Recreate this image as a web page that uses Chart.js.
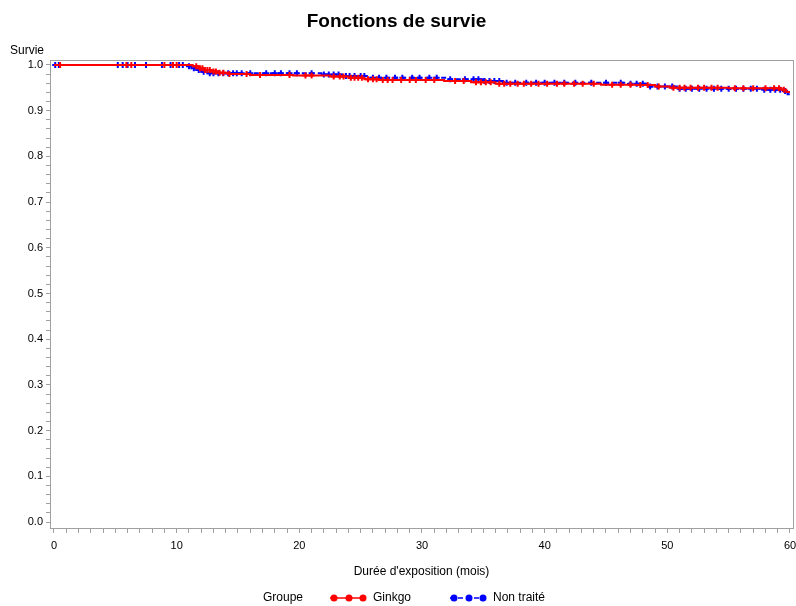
<!DOCTYPE html>
<html lang="fr">
<head>
<meta charset="utf-8">
<title>Fonctions de survie</title>
<script src="https://cdn.jsdelivr.net/npm/chart.js@4.4.1/dist/chart.umd.min.js"></script>
<style>
  html, body { margin: 0; padding: 0; background: #fff; }
  #chart { display: block; }
</style>
</head>
<body>
<canvas id="chart" width="796" height="606"></canvas>
<script>
// Courbes de Kaplan-Meier : instants des décès (mois) et survie juste après
const ginkgoTimes = [0, 11.3, 11.8, 12.2, 12.8, 13.3, 14.2, 16.0, 19.5, 22.5, 24.0, 25.3, 26.5, 31.8, 34.0, 36.0, 44.6, 47.5, 49.0, 50.2, 55.0, 59.3, 59.7, 60.0];
const ginkgoSurv  = [1.0, 0.997, 0.993, 0.989, 0.986, 0.983, 0.980, 0.978, 0.977, 0.975, 0.972, 0.969, 0.967, 0.965, 0.962, 0.959, 0.957, 0.956, 0.953, 0.950, 0.949, 0.946, 0.941, 0.941];

const nonTraiteTimes = [0, 10.8, 11.2, 11.6, 12.0, 12.5, 21.8, 23.5, 25.5, 32.0, 35.0, 36.6, 46.8, 48.3, 50.8, 57.8, 59.5, 59.8, 60.0];
const nonTraiteSurv  = [1.0, 0.997, 0.993, 0.989, 0.985, 0.982, 0.979, 0.976, 0.972, 0.969, 0.965, 0.961, 0.959, 0.953, 0.948, 0.946, 0.943, 0.936, 0.930];

// Observations censurées (mois)
const ginkgoCensored = [0.5, 5.9, 6.3, 9.0, 9.7, 10.0, 11.6, 11.9, 12.1, 12.3, 12.5, 12.7, 13.0, 13.2, 13.5, 13.8, 14.3, 15.7, 16.8, 19.2, 20.5, 21.0, 22.8, 23.3, 23.6, 24.2, 24.5, 24.8, 25.1, 25.6, 26.0, 26.3, 26.8, 27.2, 27.6, 28.3, 29.0, 29.5, 30.3, 31.0, 32.7, 33.4, 34.4, 34.8, 35.2, 35.6, 36.3, 36.7, 37.2, 37.8, 38.3, 38.9, 39.5, 40.2, 41.0, 41.6, 42.4, 43.1, 44.0, 45.5, 46.2, 47.0, 47.8, 48.4, 49.3, 50.5, 51.0, 51.4, 51.9, 52.5, 53.0, 53.6, 54.1, 55.5, 56.2, 57.0, 58.0, 58.7, 59.1, 59.5];
const nonTraiteCensored = [0.1, 0.4, 5.2, 5.6, 6.0, 6.6, 7.5, 8.8, 9.5, 10.2, 10.5, 11.0, 11.4, 11.8, 12.2, 12.7, 13.0, 13.4, 13.8, 14.2, 14.6, 14.9, 15.3, 16.0, 17.3, 18.0, 18.5, 19.2, 19.8, 21.0, 22.0, 22.4, 22.8, 23.2, 23.8, 24.1, 24.5, 25.0, 25.3, 26.0, 26.5, 27.1, 27.8, 28.4, 29.2, 29.8, 30.6, 31.2, 32.3, 33.5, 34.2, 34.6, 35.1, 35.5, 35.9, 36.3, 36.9, 37.6, 38.5, 39.3, 40.0, 40.8, 41.6, 42.5, 43.8, 45.0, 46.2, 47.0, 47.5, 48.0, 48.6, 49.2, 49.8, 50.4, 51.0, 51.5, 52.0, 52.6, 53.2, 53.8, 54.4, 55.0, 55.6, 56.2, 56.8, 57.3, 57.9, 58.4, 58.8, 59.2, 59.6];

const groupLabels = ['Ginkgo', 'Non traité'];
const groupColors = ['#ff0000', '#0000ff'];
const xTickValues = [0, 10, 20, 30, 40, 50, 60];
const yTickValues = [0.0, 0.1, 0.2, 0.3, 0.4, 0.5, 0.6, 0.7, 0.8, 0.9, 1.0];

const FONT = "'Liberation Sans', Arial, sans-serif";
const FRAME = '#a0a0a0';

// valeur de la courbe en escalier à l'instant t
function survivalAt(times, surv, t) {
    let s = surv[0];
    for (let i = 0; i < times.length; i++) {
        if (times[i] <= t) s = surv[i];
    }
    return s;
}

function stepPoints(times, surv) {
    return times.map((t, i) => ({ x: t, y: surv[i] }));
}

function censorPoints(censored, times, surv) {
    return censored.map(t => ({ x: t, y: survivalAt(times, surv, t) }));
}

// graduations secondaires : tous les mois en x, tous les 0,02 en y
const xMinor = [];
for (let m = 0; m <= 60; m++) xMinor.push(m);
const yMinor = [];
for (let k = 0; k <= 50; k++) yMinor.push(k / 50);

const framePlugin = {
    id: 'frameAndLegend',
    afterDraw(chart) {
        const { ctx, chartArea: a } = chart;
        ctx.save();
        // cadre du graphique
        ctx.strokeStyle = FRAME;
        ctx.lineWidth = 1;
        ctx.strokeRect(Math.round(a.left) + 0.5, Math.round(a.top) + 0.5, Math.round(a.right - a.left), Math.round(a.bottom - a.top));

        // étiquettes de l'axe des durées (ne débordent pas sur la marge droite)
        const xs = chart.scales.x;
        ctx.fillStyle = '#000';
        ctx.font = '11px ' + FONT;
        ctx.textAlign = 'center';
        ctx.textBaseline = 'middle';
        xTickValues.forEach(v => ctx.fillText(String(v), xs.getPixelForValue(v), 546));

        // titre de l'axe vertical, horizontal au-dessus de l'axe
        ctx.font = '12px ' + FONT;
        ctx.textAlign = 'left';
        ctx.fillText('Survie', 10, 51);

        // légende
        const ly = 598;
        ctx.fillText('Groupe', 263, ly);
        const starts = [330, 450];
        groupLabels.forEach((label, i) => {
            const x0 = starts[i];
            ctx.strokeStyle = groupColors[i];
            ctx.fillStyle = groupColors[i];
            ctx.lineWidth = 1.5;
            ctx.setLineDash(i === 1 ? [5, 3] : []);
            ctx.beginPath();
            ctx.moveTo(x0, ly);
            ctx.lineTo(x0 + 36, ly);
            ctx.stroke();
            ctx.setLineDash([]);
            [4, 19, 33].forEach(dx => {
                ctx.beginPath();
                ctx.arc(x0 + dx, ly, 3.5, 0, Math.PI * 2);
                ctx.fill();
            });
            ctx.fillStyle = '#000';
            ctx.fillText(label, x0 + 43, ly);
        });
        ctx.restore();
    }
};

const lineDefaults = { stepped: 'before', pointRadius: 0, fill: false, borderWidth: 2 };
const censorDefaults = { showLine: false, pointStyle: 'cross', pointRadius: 3, borderWidth: 2 };

new Chart(document.getElementById('chart'), {
    type: 'line',
    data: {
        datasets: [
            Object.assign({ label: groupLabels[0], data: stepPoints(ginkgoTimes, ginkgoSurv), borderColor: groupColors[0] }, lineDefaults),
            Object.assign({ label: groupLabels[0] + ' (censuré)', data: censorPoints(ginkgoCensored, ginkgoTimes, ginkgoSurv), borderColor: groupColors[0], backgroundColor: groupColors[0] }, censorDefaults),
            Object.assign({ label: groupLabels[1], data: stepPoints(nonTraiteTimes, nonTraiteSurv), borderColor: groupColors[1], borderDash: [5, 3] }, lineDefaults),
            Object.assign({ label: groupLabels[1] + ' (censuré)', data: censorPoints(nonTraiteCensored, nonTraiteTimes, nonTraiteSurv), borderColor: groupColors[1], backgroundColor: groupColors[1] }, censorDefaults)
        ]
    },
    options: {
        responsive: false,
        animation: false,
        devicePixelRatio: 1,
        layout: { autoPadding: false, padding: { top: 0, right: 3, bottom: 24, left: 0 } },
        plugins: {
            legend: { display: false },
            tooltip: { enabled: false },
            title: {
                display: true,
                text: 'Fonctions de survie',
                color: '#000',
                font: { family: FONT, size: 19, weight: 'bold', lineHeight: 1.2 },
                padding: { top: 10, bottom: 27.2 }
            }
        },
        scales: {
            x: {
                type: 'linear',
                min: -0.326,
                max: 60.245,
                afterFit: s => { s.height = 54; },
                afterBuildTicks: s => { s.ticks = xMinor.map(v => ({ value: v })); },
                ticks: { display: false },
                grid: { drawOnChartArea: false, drawTicks: true, tickLength: 5, color: FRAME },
                border: { display: true, color: FRAME },
                title: {
                    display: true,
                    text: "Durée d'exposition (mois)",
                    color: '#000',
                    font: { family: FONT, size: 12 },
                    padding: { top: 0, bottom: 3 }
                }
            },
            y: {
                type: 'linear',
                min: -0.0131,
                max: 1.0109,
                afterFit: s => { s.width = 50; },
                afterBuildTicks: s => { s.ticks = yMinor.map(v => ({ value: v })); },
                ticks: {
                    autoSkip: false,
                    padding: 3,
                    color: '#000',
                    font: { family: FONT, size: 11 },
                    callback: v => {
                        const hit = yTickValues.find(t => Math.abs(t - v) < 1e-9);
                        return hit === undefined ? '' : hit.toFixed(1);
                    }
                },
                grid: { drawOnChartArea: false, drawTicks: true, tickLength: 4, color: FRAME },
                border: { display: true, color: FRAME }
            }
        }
    },
    plugins: [framePlugin]
});
</script>
</body>
</html>
